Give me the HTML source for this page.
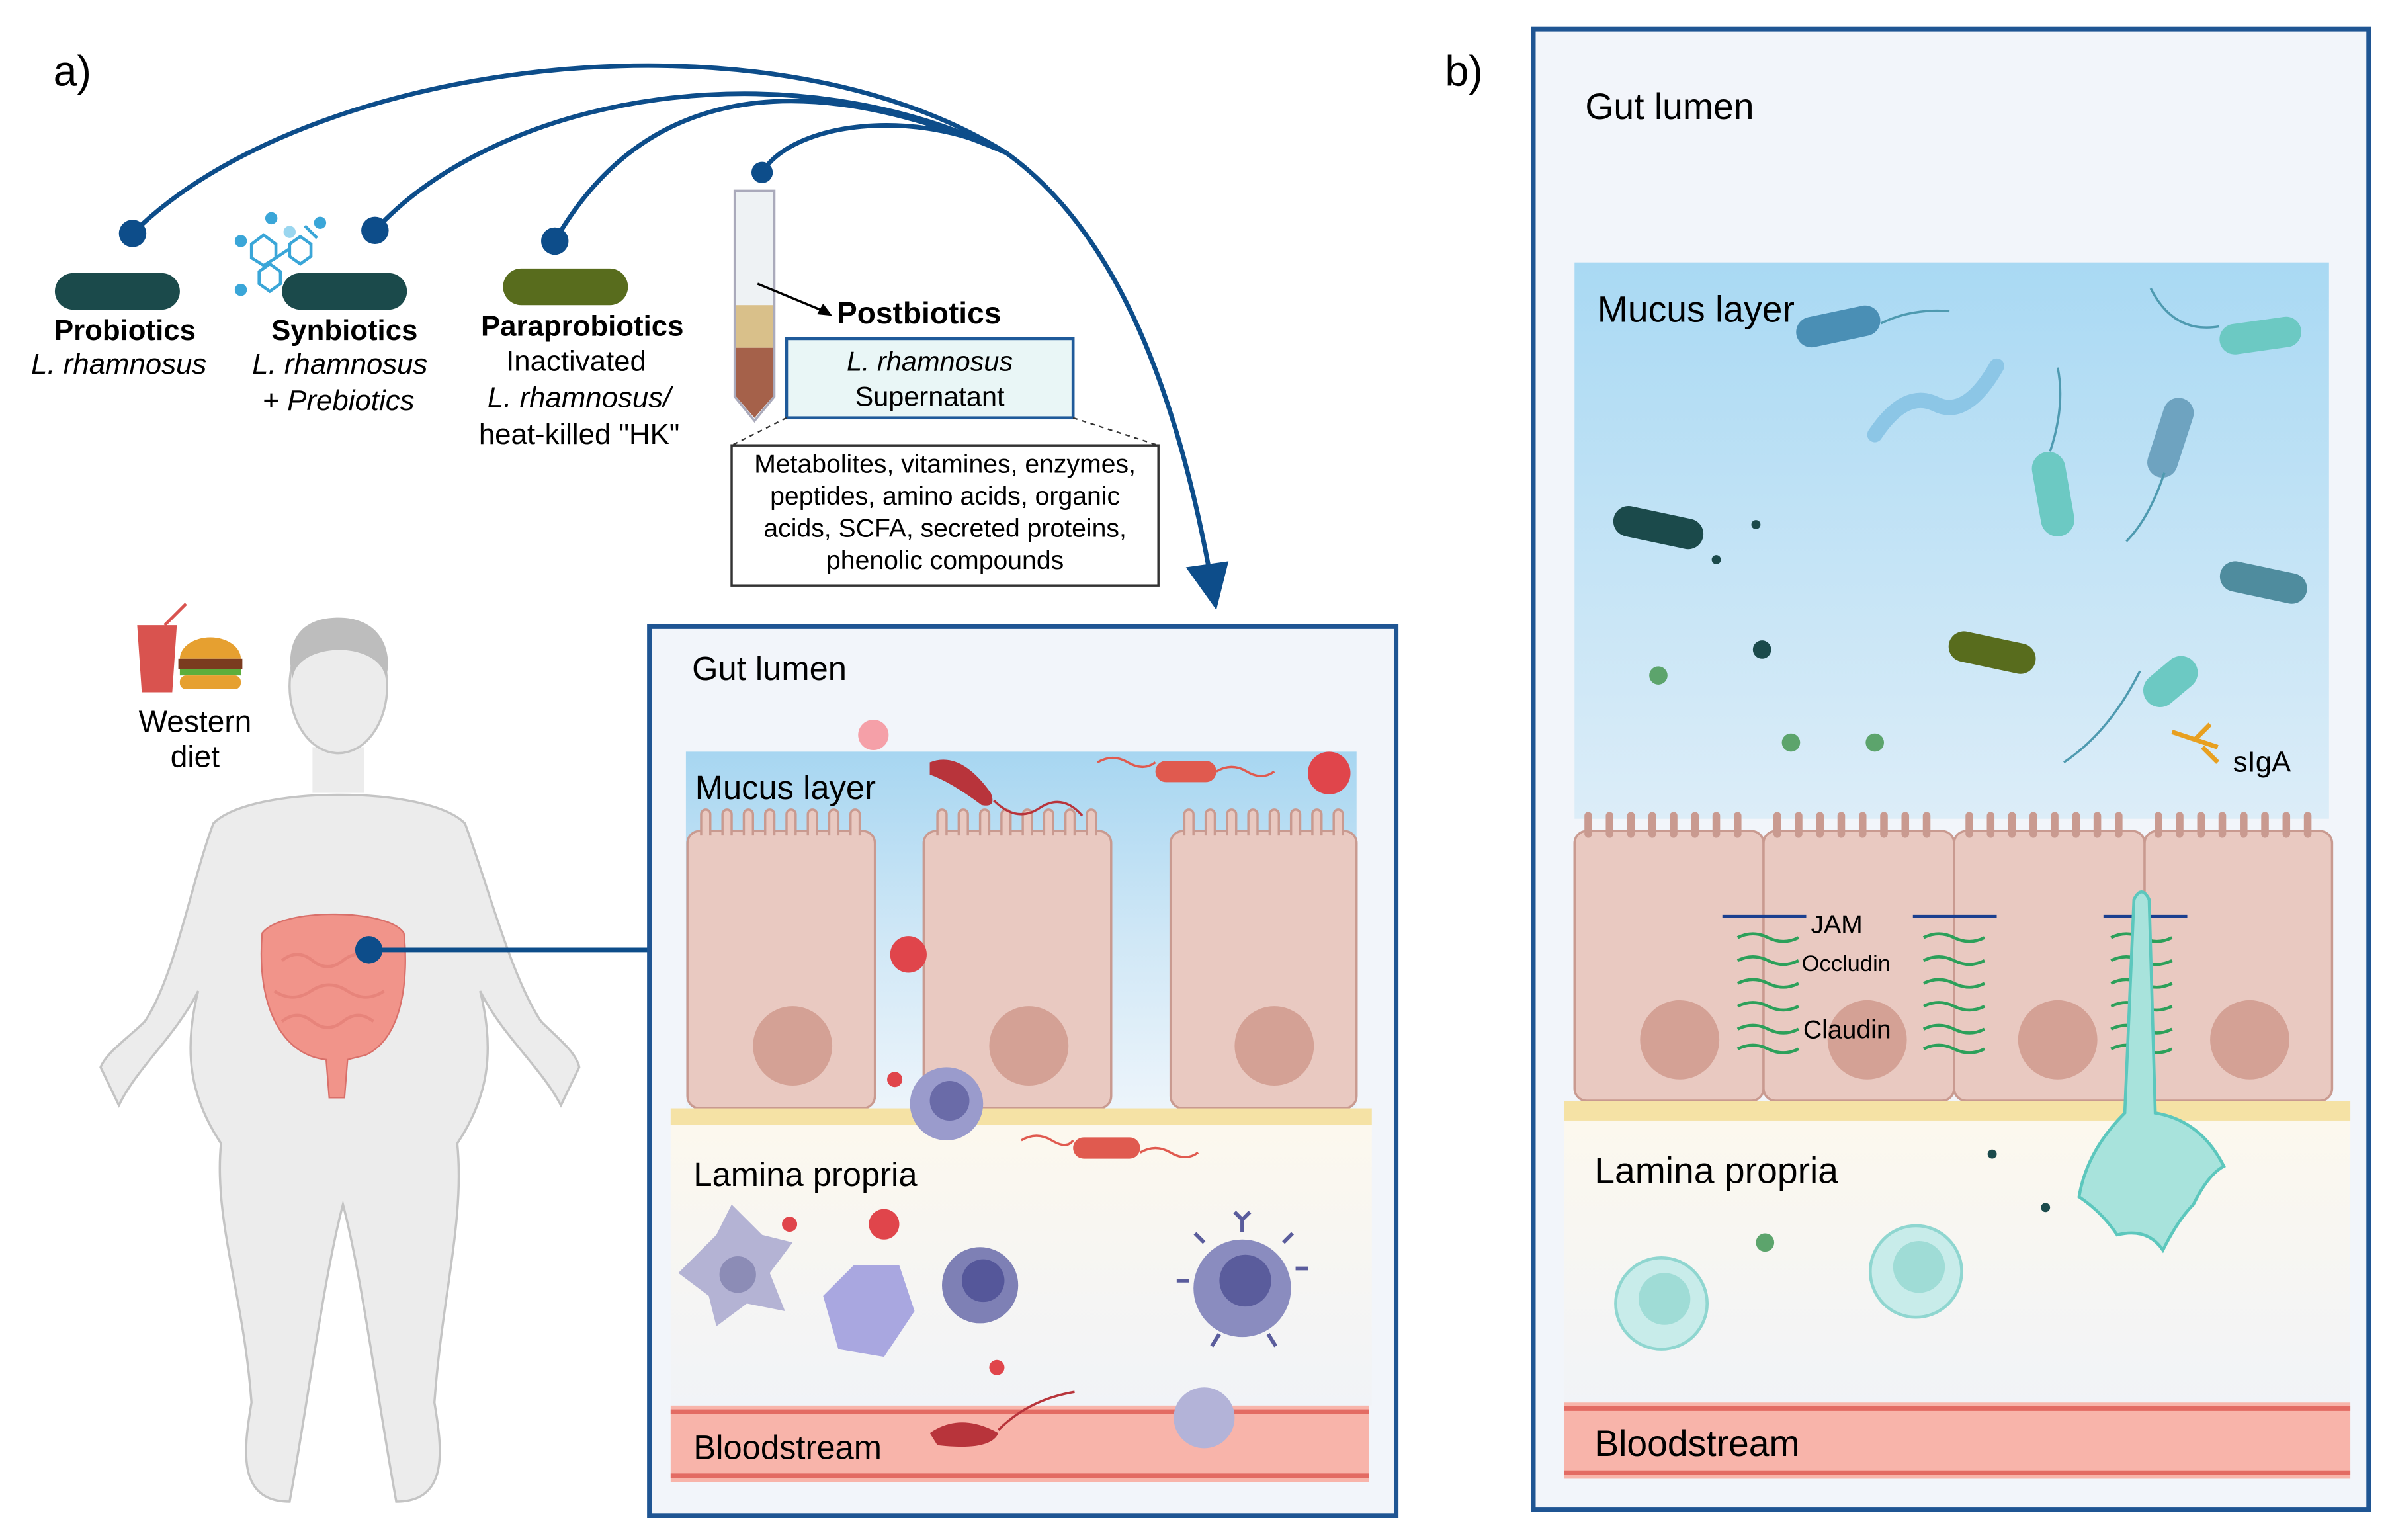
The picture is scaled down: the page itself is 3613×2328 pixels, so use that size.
<!DOCTYPE html>
<html><head><meta charset="utf-8"><style>
html,body{margin:0;padding:0;background:#fff;}
svg{display:block;font-family:"Liberation Sans",sans-serif;}
</style></head><body>
<svg width="3613" height="2328" viewBox="0 0 1568 1010" xmlns="http://www.w3.org/2000/svg">
<defs>
<linearGradient id="muc" x1="0" y1="0" x2="0" y2="1"><stop offset="0" stop-color="#a7d6f1"/><stop offset="0.5" stop-color="#cfe7f6"/><stop offset="1" stop-color="#eef5fb"/></linearGradient>
<linearGradient id="muc2" x1="0" y1="0" x2="0" y2="1"><stop offset="0" stop-color="#a9d9f3"/><stop offset="1" stop-color="#dcedf8"/></linearGradient>
<linearGradient id="lp" x1="0" y1="0" x2="0" y2="1"><stop offset="0" stop-color="#fcf8ee"/><stop offset="1" stop-color="#f1f3f7"/></linearGradient>
</defs>
<rect width="1568" height="1010" fill="#fff"/>
<text x="35" y="56" font-size="28">a)</text>
<text x="948" y="56" font-size="28">b)</text>

<g fill="none" stroke="#0d4d8a" stroke-width="3">
<path d="M87,153 C200,40 500,0 660,100"/>
<path d="M246,151 C330,60 520,30 660,100"/>
<path d="M364,158 C420,60 520,40 660,100"/>
<path d="M500,113 C520,80 600,70 660,100"/>
<path d="M660,100 C730,150 770,250 793,372"/>
</g>
<polygon points="778,372 806,368 798,400" fill="#0d4d8a"/>
<g fill="#0d4d8a"><circle cx="87" cy="153" r="9"/><circle cx="246" cy="151" r="9"/><circle cx="364" cy="158" r="9"/><circle cx="500" cy="113" r="7"/></g>

<rect x="36" y="179" width="82" height="24" rx="12" fill="#1b4a4b"/>
<rect x="185" y="179" width="82" height="24" rx="12" fill="#1b4a4b"/>
<rect x="330" y="176" width="82" height="24" rx="12" fill="#586c1d"/>
<g fill="none" stroke="#3aa6d8" stroke-width="2"><path d="M165,160 l8,-6 l8,6 l0,9 l-8,5 l-8,-5 z"/><path d="M190,160 l7,-5 l7,5 l0,8 l-7,5 l-7,-5 z"/><path d="M170,178 l7,-5 l7,5 l0,8 l-7,5 l-7,-5 z"/><path d="M200,148 l8,8 M181,169 l9,-6"/></g>
<g fill="#3aa6d8"><circle cx="158" cy="158" r="4"/><circle cx="178" cy="143" r="4"/><circle cx="210" cy="146" r="4"/><circle cx="158" cy="190" r="4"/><circle cx="190" cy="152" r="4" fill="#9ad6ef"/></g>

<g font-size="19" text-anchor="middle">
<text x="82" y="223" font-weight="bold">Probiotics</text>
<text x="78" y="245" font-style="italic">L. rhamnosus</text>
<text x="226" y="223" font-weight="bold">Synbiotics</text>
<text x="223" y="245" font-style="italic">L. rhamnosus</text>
<text x="222" y="269" font-style="italic">+ Prebiotics</text>
<text x="382" y="220" font-weight="bold">Paraprobiotics</text>
<text x="378" y="243">Inactivated</text>
<text x="380" y="267" font-style="italic">L. rhamnosus/</text>
<text x="380" y="291">heat-killed "HK"</text>
</g>
<path d="M482,125 h26 v135 l-13,16 l-13,-16 z" fill="#eef2f4" stroke="#aab" stroke-width="1.5"/>
<rect x="483" y="200" width="24" height="28" fill="#d9c08a"/>
<path d="M483,228 h24 v32 l-12,14 l-12,-14 z" fill="#a5614a"/>
<line x1="497" y1="186" x2="543" y2="205" stroke="#000" stroke-width="1.5"/>
<polygon points="546,207 536,206 540,199"/>
<text x="549" y="212" font-size="20" font-weight="bold">Postbiotics</text>
<rect x="516" y="222" width="188" height="52" fill="#e9f6f6" stroke="#1f5a9a" stroke-width="2"/>
<text x="610" y="243" font-size="18" text-anchor="middle" font-style="italic">L. rhamnosus</text>
<text x="610" y="266" font-size="18" text-anchor="middle">Supernatant</text>
<g stroke="#333" stroke-dasharray="3,3" fill="none"><line x1="516" y1="274" x2="480" y2="292"/><line x1="704" y1="274" x2="760" y2="292"/></g>
<rect x="480" y="292" width="280" height="92" fill="#fff" stroke="#333" stroke-width="1.5"/>
<g font-size="17" text-anchor="middle">
<text x="620" y="310">Metabolites, vitamines, enzymes,</text>
<text x="620" y="331">peptides, amino acids, organic</text>
<text x="620" y="352">acids, SCFA, secreted proteins,</text>
<text x="620" y="373">phenolic compounds</text>
</g>

<!-- human -->
<g fill="#ececec" stroke="#c4c4c4" stroke-width="1.5">
<path d="M140,540 C165,515 280,515 305,540 C320,580 335,640 355,670 C365,680 378,690 380,700 L368,725 C355,700 330,680 315,650 C325,690 320,720 300,750 C305,800 290,850 285,920 C290,950 295,985 260,985 C248,920 238,840 225,790 C212,840 202,920 190,985 C155,985 160,950 165,920 C160,850 140,800 145,750 C125,720 120,690 130,650 C115,680 90,700 78,725 L66,700 C70,690 85,680 95,670 C115,640 125,580 140,540 Z"/>
<rect x="205" y="490" width="34" height="30" stroke="none"/>
<ellipse cx="222" cy="450" rx="32" ry="44"/>
</g>
<path d="M222,405 C190,405 188,430 192,445 C195,420 250,420 253,445 C258,430 252,405 222,405 Z" fill="#bdbdbd"/>
<path d="M172,612 C185,595 255,596 265,612 C268,640 265,680 240,692 L228,695 L226,720 L216,720 L214,695 C185,692 168,660 172,612 Z" fill="#f1948a" stroke="#d9706a"/>
<g fill="none" stroke="#e7847b" stroke-width="2"><path d="M185,630 q10,-8 20,0 q10,8 20,0 q10,-8 20,0 M180,650 q12,8 24,0 q12,-8 24,0 q12,8 24,0 M185,670 q10,-8 20,0 q10,8 20,0 q10,-8 20,0"/></g>
<line x1="242" y1="623" x2="426" y2="623" stroke="#0d4d8a" stroke-width="3"/>
<circle cx="242" cy="623" r="9" fill="#0d4d8a"/>
<path d="M90,410 h26 l-3,44 h-20 z" fill="#d9534f"/><line x1="108" y1="410" x2="122" y2="396" stroke="#d9534f" stroke-width="2"/>
<path d="M118,432 a20,14 0 0 1 40,0 z" fill="#e6a030"/><rect x="117" y="432" width="42" height="7" fill="#7a3b1f"/><rect x="118" y="439" width="40" height="4" fill="#5cae3c"/><rect x="118" y="443" width="40" height="9" rx="4" fill="#e6a030"/>
<text x="128" y="480" font-size="20" text-anchor="middle">Western</text>
<text x="128" y="503" font-size="20" text-anchor="middle">diet</text>

<!-- Panel a inner -->
<rect x="426" y="411" width="490" height="583" fill="#f2f5fa" stroke="#1f5593" stroke-width="3"/>
<text x="454" y="446" font-size="22">Gut lumen</text>
<rect x="450" y="493" width="440" height="240" fill="url(#muc)"/>
<g fill="#e9c9c1" stroke="#c99a90" stroke-width="1.5">
<rect x="451" y="545" width="123" height="182" rx="8"/>
<rect x="606" y="545" width="123" height="182" rx="8"/>
<rect x="768" y="545" width="122" height="182" rx="8"/>
</g>
<g fill="#e9c9c1" stroke="#c99a90" stroke-width="1.5">
<path d="M460,548 v-14 a3,3 0 0 1 6,0 v14 M474,548 v-14 a3,3 0 0 1 6,0 v14 M488,548 v-14 a3,3 0 0 1 6,0 v14 M502,548 v-14 a3,3 0 0 1 6,0 v14 M516,548 v-14 a3,3 0 0 1 6,0 v14 M530,548 v-14 a3,3 0 0 1 6,0 v14 M544,548 v-14 a3,3 0 0 1 6,0 v14 M558,548 v-14 a3,3 0 0 1 6,0 v14"/>
<path d="M615,548 v-14 a3,3 0 0 1 6,0 v14 M629,548 v-14 a3,3 0 0 1 6,0 v14 M643,548 v-14 a3,3 0 0 1 6,0 v14 M657,548 v-14 a3,3 0 0 1 6,0 v14 M671,548 v-14 a3,3 0 0 1 6,0 v14 M685,548 v-14 a3,3 0 0 1 6,0 v14 M699,548 v-14 a3,3 0 0 1 6,0 v14 M713,548 v-14 a3,3 0 0 1 6,0 v14"/>
<path d="M777,548 v-14 a3,3 0 0 1 6,0 v14 M791,548 v-14 a3,3 0 0 1 6,0 v14 M805,548 v-14 a3,3 0 0 1 6,0 v14 M819,548 v-14 a3,3 0 0 1 6,0 v14 M833,548 v-14 a3,3 0 0 1 6,0 v14 M847,548 v-14 a3,3 0 0 1 6,0 v14 M861,548 v-14 a3,3 0 0 1 6,0 v14 M875,548 v-14 a3,3 0 0 1 6,0 v14"/>
</g>
<g fill="#d4a195"><circle cx="520" cy="686" r="26"/><circle cx="675" cy="686" r="26"/><circle cx="836" cy="686" r="26"/></g>
<text x="456" y="524" font-size="22">Mucus layer</text>
<rect x="440" y="727" width="460" height="11" fill="#f5e2a5"/>
<rect x="440" y="738" width="460" height="184" fill="url(#lp)"/>
<text x="455" y="778" font-size="22">Lamina propria</text>
<rect x="440" y="922" width="458" height="50" fill="#f8b4aa"/>
<line x1="440" y1="926" x2="898" y2="926" stroke="#e36b63" stroke-width="3"/>
<line x1="440" y1="968" x2="898" y2="968" stroke="#e36b63" stroke-width="3"/>
<text x="455" y="957" font-size="22">Bloodstream</text>
<path d="M610,500 q20,-8 40,20 q4,10 -6,8 q-20,-15 -34,-20 z" fill="#b8343b"/>
<path d="M652,525 q15,15 30,5 q15,-10 28,5" fill="none" stroke="#b8343b" stroke-width="1.5"/>
<rect x="758" y="499" width="40" height="14" rx="7" fill="#e05a4f"/>
<path d="M720,500 q10,-6 20,0 q10,6 18,0 M798,506 q10,-6 20,0 q10,6 18,0" fill="none" stroke="#e05a4f" stroke-width="1.5"/>
<rect x="704" y="746" width="44" height="14" rx="7" fill="#e05a4f"/>
<path d="M670,748 q10,-6 20,0 q10,6 14,0 M748,756 q10,-6 20,0 q10,6 18,0" fill="none" stroke="#e05a4f" stroke-width="1.5"/>
<circle cx="872" cy="507" r="14" fill="#e0454b"/><circle cx="596" cy="626" r="12" fill="#e0454b"/>
<circle cx="573" cy="482" r="10" fill="#f5a0a8"/>
<circle cx="621" cy="724" r="24" fill="#9a9bcc"/><circle cx="623" cy="722" r="13" fill="#6a6ba8"/>
<circle cx="643" cy="843" r="25" fill="#7e80b5"/><circle cx="645" cy="840" r="14" fill="#55579a"/>
<circle cx="815" cy="845" r="32" fill="#8a8cbf"/><circle cx="817" cy="840" r="17" fill="#5a5c9c"/>
<g stroke="#5a5c9c" stroke-width="2.5" fill="none"><path d="M815,808 v-8 l-5,-5 m5,5 l5,-5 M850,832 h8 M780,840 h-8 M800,875 l-5,8 M832,875 l5,8 M790,815 l-6,-6 M842,815 l6,-6"/></g>
<path d="M445,835 l25,-25 l10,-20 l20,20 l20,5 l-15,20 l10,25 l-25,-5 l-20,15 l-5,-20 z" fill="#b4b3d4"/>
<circle cx="484" cy="836" r="12" fill="#8c8cb6"/>
<path d="M540,850 l20,-20 l30,0 l10,30 l-20,30 l-30,-5 z" fill="#a9a7e0"/>
<circle cx="580" cy="803" r="10" fill="#e0454b"/><circle cx="587" cy="708" r="5" fill="#e0454b"/><circle cx="518" cy="803" r="5" fill="#e0454b"/><circle cx="654" cy="897" r="5" fill="#e0454b"/>
<path d="M610,940 q20,-14 45,0 q-5,12 -40,8 z" fill="#b8343b"/>
<path d="M655,938 q20,-20 50,-25" fill="none" stroke="#b8343b" stroke-width="1.5"/>
<circle cx="790" cy="930" r="20" fill="#b3b3d8"/>

<!-- Panel b -->
<rect x="1006" y="19" width="548" height="971" fill="#f2f5fa" stroke="#1f5593" stroke-width="3"/>
<text x="1040" y="78" font-size="24">Gut lumen</text>
<rect x="1033" y="172" width="495" height="365" fill="url(#muc2)"/>
<text x="1048" y="211" font-size="24">Mucus layer</text>
<g fill="#e9c9c1" stroke="#c99a90" stroke-width="1.5">
<rect x="1033" y="545" width="124" height="177" rx="8"/>
<rect x="1157" y="545" width="125" height="177" rx="8"/>
<rect x="1282" y="545" width="125" height="177" rx="8"/>
<rect x="1407" y="545" width="123" height="177" rx="8"/>
</g>
<g fill="none" stroke="#c99a90" stroke-width="5" stroke-linecap="round">
<path d="M1042,547 v-12 M1056,547 v-12 M1070,547 v-12 M1084,547 v-12 M1098,547 v-12 M1112,547 v-12 M1126,547 v-12 M1140,547 v-12 M1166,547 v-12 M1180,547 v-12 M1194,547 v-12 M1208,547 v-12 M1222,547 v-12 M1236,547 v-12 M1250,547 v-12 M1264,547 v-12 M1292,547 v-12 M1306,547 v-12 M1320,547 v-12 M1334,547 v-12 M1348,547 v-12 M1362,547 v-12 M1376,547 v-12 M1390,547 v-12 M1416,547 v-12 M1430,547 v-12 M1444,547 v-12 M1458,547 v-12 M1472,547 v-12 M1486,547 v-12 M1500,547 v-12 M1514,547 v-12"/>
</g>
<g fill="#d4a195"><circle cx="1102" cy="682" r="26"/><circle cx="1225" cy="682" r="26"/><circle cx="1350" cy="682" r="26"/><circle cx="1476" cy="682" r="26"/></g>
<g stroke="#2ca05a" stroke-width="2" fill="none">
<path d="M1140,615 q10,-5 20,0 q10,5 20,0 M1140,630 q10,-5 20,0 q10,5 20,0 M1140,645 q10,-5 20,0 q10,5 20,0 M1140,660 q10,-5 20,0 q10,5 20,0 M1140,675 q10,-5 20,0 q10,5 20,0 M1140,688 q10,-5 20,0 q10,5 20,0"/>
<path d="M1262,615 q10,-5 20,0 q10,5 20,0 M1262,630 q10,-5 20,0 q10,5 20,0 M1262,645 q10,-5 20,0 q10,5 20,0 M1262,660 q10,-5 20,0 q10,5 20,0 M1262,675 q10,-5 20,0 q10,5 20,0 M1262,688 q10,-5 20,0 q10,5 20,0"/>
<path d="M1385,615 q10,-5 20,0 q10,5 20,0 M1385,630 q10,-5 20,0 q10,5 20,0 M1385,645 q10,-5 20,0 q10,5 20,0 M1385,660 q10,-5 20,0 q10,5 20,0 M1385,675 q10,-5 20,0 q10,5 20,0 M1385,688 q10,-5 20,0 q10,5 20,0"/>
</g>
<g stroke="#1b3f8f" stroke-width="2"><line x1="1130" y1="601" x2="1185" y2="601"/><line x1="1255" y1="601" x2="1310" y2="601"/><line x1="1380" y1="601" x2="1435" y2="601"/></g>
<text x="1188" y="612" font-size="17">JAM</text>
<text x="1182" y="637" font-size="15">Occludin</text>
<text x="1183" y="681" font-size="17">Claudin</text>
<rect x="1026" y="722" width="516" height="13" fill="#f5e2a5"/>
<rect x="1026" y="735" width="516" height="187" fill="url(#lp)"/>
<text x="1046" y="776" font-size="24">Lamina propria</text>
<rect x="1026" y="920" width="516" height="50" fill="#f8b4aa"/>
<line x1="1026" y1="924" x2="1542" y2="924" stroke="#e36b63" stroke-width="3"/>
<line x1="1026" y1="966" x2="1542" y2="966" stroke="#e36b63" stroke-width="3"/>
<text x="1046" y="955" font-size="24">Bloodstream</text>
<rect x="1178" y="204" width="56" height="20" rx="10" fill="#4a8fb5" transform="rotate(-12 1206 214)"/>
<rect x="1058" y="336" width="60" height="20" rx="10" fill="#1b4a4b" transform="rotate(12 1088 346)"/>
<rect x="1456" y="210" width="54" height="20" rx="10" fill="#6cc9c3" transform="rotate(-8 1483 220)"/>
<rect x="1278" y="418" width="58" height="20" rx="10" fill="#586c1d" transform="rotate(12 1307 428)"/>
<rect x="1456" y="372" width="58" height="20" rx="10" fill="#4f8c9e" transform="rotate(12 1485 382)"/>
<rect x="1414" y="260" width="20" height="54" rx="10" fill="#6ea3c0" transform="rotate(18 1424 287)"/>
<rect x="1336" y="296" width="22" height="56" rx="11" fill="#6cc9c3" transform="rotate(-10 1347 324)"/>
<rect x="1404" y="436" width="40" height="22" rx="11" fill="#6cc9c3" transform="rotate(-40 1424 447)"/>
<path d="M1230,285 q20,-30 40,-20 q20,10 40,-25" fill="none" stroke="#8cc6e6" stroke-width="10" stroke-linecap="round"/>
<g fill="none" stroke="#4e9ab0" stroke-width="1.5"><path d="M1234,212 q20,-10 45,-8"/><path d="M1456,214 q-30,5 -45,-25"/><path d="M1404,440 q-20,40 -50,60"/><path d="M1420,310 q-10,30 -25,45"/><path d="M1345,296 q10,-30 5,-55"/></g>
<path d="M1425,480 l30,10 m-15,-5 l10,-10 m-5,15 l10,10" stroke="#e8a020" stroke-width="3" fill="none"/>
<text x="1465" y="506" font-size="19">sIgA</text>
<g fill="#5ca46c"><circle cx="1088" cy="443" r="6"/><circle cx="1175" cy="487" r="6"/><circle cx="1230" cy="487" r="6"/><circle cx="1158" cy="815" r="6"/></g>
<g fill="#1b4a4b"><circle cx="1156" cy="426" r="6"/><circle cx="1152" cy="344" r="3"/><circle cx="1126" cy="367" r="3"/><circle cx="1307" cy="757" r="3"/><circle cx="1342" cy="792" r="3"/></g>
<path d="M1400,590 q5,-10 10,0 l4,140 q30,5 45,35 q-10,5 -20,25 q-10,10 -20,30 q-10,-15 -30,-10 q-10,-15 -25,-25 q5,-30 30,-55 z" fill="#a8e3dc" stroke="#5cc7bd" stroke-width="2"/>
<circle cx="1090" cy="855" r="30" fill="#c8ecea" stroke="#8fd6d0" stroke-width="2"/><circle cx="1092" cy="852" r="17" fill="#9fdcd6"/>
<circle cx="1257" cy="834" r="30" fill="#c8ecea" stroke="#8fd6d0" stroke-width="2"/><circle cx="1259" cy="831" r="17" fill="#9fdcd6"/>
</svg>
</body></html>
